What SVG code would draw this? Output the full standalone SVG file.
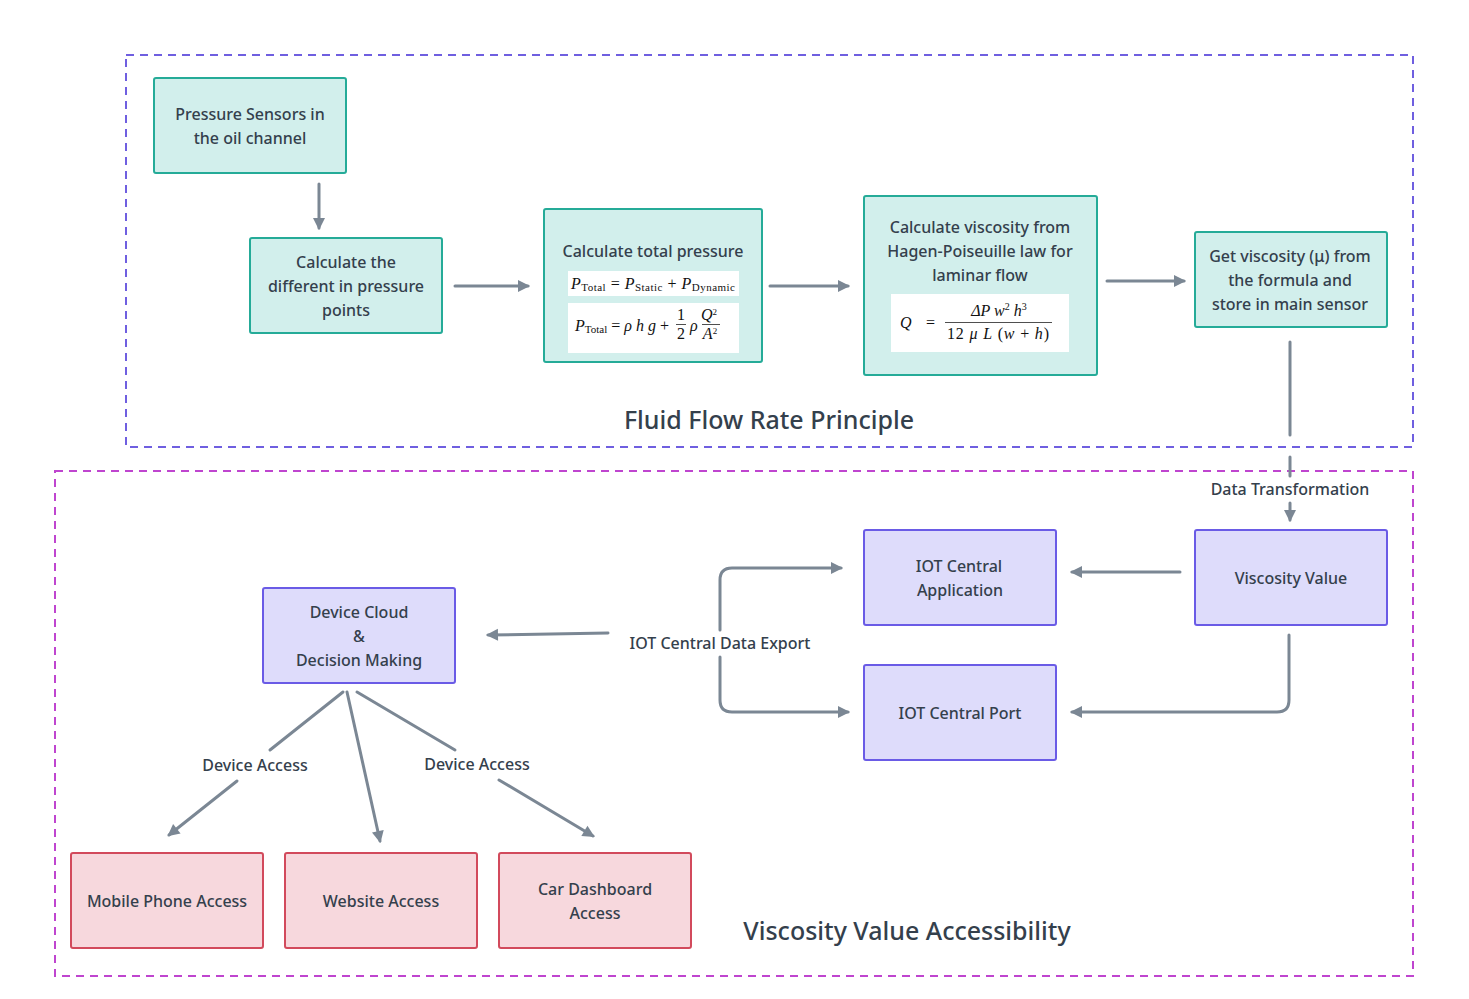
<svg xmlns="http://www.w3.org/2000/svg" width="1469" height="999" viewBox="0 0 1469 999">
<style>
.bg{fill:#ffffff}
.grp1{fill:none;stroke:#6f5fe0;stroke-width:2;stroke-dasharray:8 6}
.grp2{fill:none;stroke:#bf45cf;stroke-width:2;stroke-dasharray:8 6}
.teal{fill:#d2efec;stroke:#25ab98;stroke-width:2}
.lav{fill:#dedcfb;stroke:#6a5be6;stroke-width:2}
.pink{fill:#f7d8dd;stroke:#d24a5c;stroke-width:2}
.t{font-family:"Noto Sans","DejaVu Sans",sans-serif;font-size:16px;font-weight:500;fill:#34404c;text-anchor:middle}
.title{font-family:"Noto Sans","DejaVu Sans",sans-serif;font-size:25px;font-weight:500;fill:#34404c;text-anchor:middle}
.lbl{font-family:"Noto Sans","DejaVu Sans",sans-serif;font-size:16px;font-weight:500;fill:#34404c;text-anchor:middle}
.wb{fill:#ffffff}
.m{font-family:"Liberation Serif","DejaVu Serif",serif;font-size:16px;fill:#111111}
.mi{font-style:italic}
.ms{font-size:11px}
.c{fill:none;stroke:#7b8794;stroke-width:3;stroke-linecap:round;stroke-linejoin:round}
.fl{stroke:#222;stroke-width:0.8}
</style>
<defs>
<marker id="ah" markerUnits="userSpaceOnUse" markerWidth="14" markerHeight="14" viewBox="0 0 14 14" refX="11" refY="7" orient="auto">
<path d="M1,1 L13,7 L1,13 Z" fill="#7b8794"/>
</marker>
</defs>
<rect class="bg" x="0" y="0" width="1469" height="999"/>

<g id="group-fluid">
<rect class="grp1" x="126" y="55" width="1287" height="392"/>
<text class="title" x="769" y="429">Fluid Flow Rate Principle</text>
</g>
<g id="group-access">
<rect class="grp2" x="55" y="471" width="1358" height="505"/>
<text class="title" x="907" y="940">Viscosity Value Accessibility</text>
</g>

<g id="connectors">
<path class="c" d="M319,184 L319,228" marker-end="url(#ah)"/>
<path class="c" d="M455,286 L528,286" marker-end="url(#ah)"/>
<path class="c" d="M770,286 L848,286" marker-end="url(#ah)"/>
<path class="c" d="M1107,281 L1184,281" marker-end="url(#ah)"/>
<path class="c" d="M1290,342 L1290,435"/>
<path class="c" d="M1290,457 L1290,476"/>
<text class="lbl" x="1290" y="495">Data Transformation</text>
<path class="c" d="M1290,503 L1290,520" marker-end="url(#ah)"/>
<path class="c" d="M1180,572 L1072,572" marker-end="url(#ah)"/>
<path class="c" d="M1289,635 L1289,700 Q1289,712 1277,712 L1072,712" marker-end="url(#ah)"/>
<path class="c" d="M720,630 L720,580 Q720,568 732,568 L841,568" marker-end="url(#ah)"/>
<path class="c" d="M720,657 L720,700 Q720,712 732,712 L848,712" marker-end="url(#ah)"/>
<text class="lbl" x="720" y="649">IOT Central Data Export</text>
<path class="c" d="M608,633 L488,635" marker-end="url(#ah)"/>
<path class="c" d="M343,692 L270,750"/>
<text class="lbl" x="255" y="771">Device Access</text>
<path class="c" d="M237,781 L169,835" marker-end="url(#ah)"/>
<path class="c" d="M347,692 L380,841" marker-end="url(#ah)"/>
<path class="c" d="M357,692 L455,750"/>
<text class="lbl" x="477" y="770">Device Access</text>
<path class="c" d="M499,780 L593,836" marker-end="url(#ah)"/>
</g>

<g id="node-sensors">
<rect class="teal" x="154" y="78" width="192" height="95" rx="2"/>
<text class="t" x="250" y="120">Pressure Sensors in</text>
<text class="t" x="250" y="144">the oil channel</text>
</g>
<g id="node-diff">
<rect class="teal" x="250" y="238" width="192" height="95" rx="2"/>
<text class="t" x="346" y="268">Calculate the</text>
<text class="t" x="346" y="292">different in pressure</text>
<text class="t" x="346" y="316">points</text>
</g>
<g id="node-total">
<rect class="teal" x="544" y="209" width="218" height="153" rx="2"/>
<text class="t" x="653" y="257">Calculate total pressure</text>
<rect class="wb" x="568" y="271" width="171" height="25"/>
<text class="m" x="571" y="289" textLength="164" lengthAdjust="spacing"><tspan class="mi">P</tspan><tspan class="ms" dy="2">Total</tspan><tspan dy="-2"> = </tspan><tspan class="mi">P</tspan><tspan class="ms" dy="2">Static</tspan><tspan dy="-2"> + </tspan><tspan class="mi">P</tspan><tspan class="ms" dy="2">Dynamic</tspan></text>
<rect class="wb" x="568" y="303" width="171" height="50"/>
<text class="m" x="575" y="331"><tspan class="mi">P</tspan><tspan class="ms" dy="2">Total</tspan><tspan dy="-2"> = </tspan><tspan class="mi">ρ h g</tspan><tspan> +</tspan></text>
<text class="m" x="681" y="320" text-anchor="middle" font-size="13">1</text>
<line class="fl" x1="676" y1="324.5" x2="686" y2="324.5"/>
<text class="m" x="681" y="339" text-anchor="middle" font-size="13">2</text>
<text class="m mi" x="690" y="331">ρ</text>
<text class="m mi" x="709" y="320" text-anchor="middle" font-size="14">Q<tspan font-size="9" font-style="normal" dy="-5">2</tspan></text>
<line class="fl" x1="702" y1="324.5" x2="720" y2="324.5"/>
<text class="m mi" x="710" y="339" text-anchor="middle" font-size="14">A<tspan font-size="9" font-style="normal" dy="-5">2</tspan></text>
</g>
<g id="node-viscosity-calc">
<rect class="teal" x="864" y="196" width="233" height="179" rx="2"/>
<text class="t" x="980" y="233">Calculate viscosity from</text>
<text class="t" x="980" y="257">Hagen-Poiseuille law for</text>
<text class="t" x="980" y="281">laminar flow</text>
<rect class="wb" x="891" y="294" width="178" height="58"/>
<text class="m mi" x="900" y="328">Q</text>
<text class="m" x="926" y="328">=</text>
<text class="m" x="999" y="316" text-anchor="middle" font-size="16"><tspan class="mi">ΔP w</tspan><tspan font-size="10" dy="-6">2</tspan><tspan class="mi" dy="6"> h</tspan><tspan font-size="10" dy="-6">3</tspan></text>
<line class="fl" x1="945" y1="322.5" x2="1052" y2="322.5"/>
<text class="m" x="998" y="339" text-anchor="middle" font-size="16" textLength="102" lengthAdjust="spacing">12 <tspan class="mi">μ L</tspan> (<tspan class="mi">w</tspan> + <tspan class="mi">h</tspan>)</text>
</g>
<g id="node-get-viscosity">
<rect class="teal" x="1195" y="232" width="192" height="95" rx="2"/>
<text class="t" x="1290" y="262">Get viscosity (μ) from</text>
<text class="t" x="1290" y="286">the formula and</text>
<text class="t" x="1290" y="310">store in main sensor</text>
</g>

<g id="node-viscosity-value">
<rect class="lav" x="1195" y="530" width="192" height="95" rx="2"/>
<text class="t" x="1291" y="584">Viscosity Value</text>
</g>
<g id="node-iot-app">
<rect class="lav" x="864" y="530" width="192" height="95" rx="2"/>
<text class="t" x="959" y="572">IOT Central</text>
<text class="t" x="960" y="596">Application</text>
</g>
<g id="node-iot-port">
<rect class="lav" x="864" y="665" width="192" height="95" rx="2"/>
<text class="t" x="960" y="719">IOT Central Port</text>
</g>
<g id="node-device-cloud">
<rect class="lav" x="263" y="588" width="192" height="95" rx="2"/>
<text class="t" x="359" y="618">Device Cloud</text>
<text class="t" x="359" y="642">&amp;</text>
<text class="t" x="359" y="666">Decision Making</text>
</g>
<g id="node-mobile">
<rect class="pink" x="71" y="853" width="192" height="95" rx="2"/>
<text class="t" x="167" y="907">Mobile Phone Access</text>
</g>
<g id="node-website">
<rect class="pink" x="285" y="853" width="192" height="95" rx="2"/>
<text class="t" x="381" y="907">Website Access</text>
</g>
<g id="node-car">
<rect class="pink" x="499" y="853" width="192" height="95" rx="2"/>
<text class="t" x="595" y="895">Car Dashboard</text>
<text class="t" x="595" y="919">Access</text>
</g>
</svg>
